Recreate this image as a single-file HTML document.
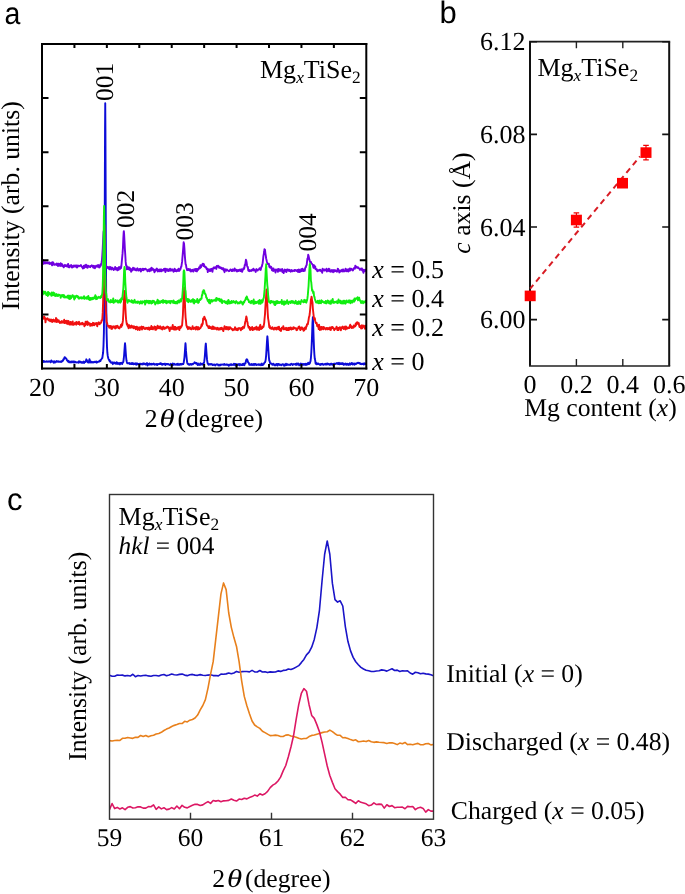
<!DOCTYPE html>
<html><head><meta charset="utf-8"><style>
html,body{margin:0;padding:0;background:#fff;}
body{width:685px;height:894px;overflow:hidden;}
svg{display:block;will-change:transform;filter:blur(0.3px);}
text{fill:#000;text-rendering:geometricPrecision;}
</style></head><body>
<svg width="685" height="894" viewBox="0 0 685 894">
<rect width="685" height="894" fill="#fff"/>
<defs><clipPath id="ca"><rect x="42.0" y="44.0" width="324.3" height="324.5"/></clipPath><clipPath id="cc"><rect x="109.5" y="494.5" width="324" height="324.7"/></clipPath></defs>
<g clip-path="url(#ca)" fill="none" stroke-width="1.9" stroke-linejoin="round">
<path d="M42.00,361.63 L42.39,361.86 L42.78,361.64 L43.17,360.92 L43.56,361.92 L43.95,361.72 L44.33,361.28 L44.72,361.80 L45.11,361.71 L45.50,361.68 L45.89,361.57 L46.28,361.81 L46.67,361.24 L47.06,361.51 L47.45,361.37 L47.84,361.87 L48.23,361.62 L48.62,361.48 L49.00,361.27 L49.39,361.51 L49.78,361.64 L50.17,361.52 L50.56,362.23 L50.95,362.11 L51.34,360.44 L51.73,360.82 L52.12,361.60 L52.51,361.49 L52.90,361.79 L53.29,361.79 L53.67,362.66 L54.06,361.21 L54.45,361.54 L54.84,362.64 L55.23,362.02 L55.62,362.03 L56.01,361.50 L56.40,361.00 L56.79,361.82 L57.18,361.79 L57.57,361.19 L57.96,361.44 L58.34,361.71 L58.73,361.32 L59.12,361.69 L59.51,361.77 L59.90,361.73 L60.29,361.46 L60.68,361.91 L61.07,361.98 L61.46,361.61 L61.85,360.93 L62.24,361.38 L62.63,360.50 L63.01,360.68 L63.40,359.26 L63.79,359.52 L64.18,358.41 L64.57,357.23 L64.96,357.33 L65.35,357.67 L65.74,358.35 L66.13,358.49 L66.52,359.10 L66.91,360.28 L67.30,360.47 L67.68,361.17 L68.07,361.69 L68.46,360.81 L68.85,361.81 L69.24,362.35 L69.63,361.73 L70.02,361.54 L70.41,362.28 L70.80,362.08 L71.19,362.39 L71.58,361.85 L71.97,361.35 L72.35,361.99 L72.74,361.85 L73.13,362.41 L73.52,362.16 L73.91,361.35 L74.30,361.56 L74.69,362.51 L75.08,362.42 L75.47,361.84 L75.86,362.14 L76.25,362.35 L76.64,362.37 L77.02,362.56 L77.41,362.29 L77.80,362.14 L78.19,362.07 L78.58,362.67 L78.97,361.19 L79.36,362.15 L79.75,362.23 L80.14,361.58 L80.53,362.38 L80.92,361.94 L81.31,362.63 L81.69,362.19 L82.08,362.55 L82.47,362.80 L82.86,362.42 L83.25,361.86 L83.64,361.57 L84.03,363.03 L84.42,362.17 L84.81,361.85 L85.20,362.02 L85.59,361.30 L85.98,360.66 L86.36,359.32 L86.75,360.28 L87.14,361.05 L87.53,362.15 L87.92,361.65 L88.31,362.40 L88.70,362.55 L89.09,360.58 L89.48,359.24 L89.87,360.63 L90.26,362.43 L90.65,361.45 L91.03,361.60 L91.42,362.50 L91.81,361.88 L92.20,362.04 L92.59,362.11 L92.98,362.50 L93.37,362.08 L93.76,362.37 L94.15,362.15 L94.54,361.83 L94.93,362.05 L95.31,361.74 L95.70,362.14 L96.09,361.59 L96.48,361.56 L96.87,362.66 L97.26,361.92 L97.65,361.85 L98.04,362.02 L98.43,361.50 L98.82,361.46 L99.21,361.61 L99.60,361.37 L99.98,360.50 L100.37,361.11 L100.76,360.13 L101.15,359.48 L101.54,358.95 L101.93,358.36 L102.32,358.09 L102.71,355.07 L103.10,352.75 L103.49,345.88 L103.88,332.86 L104.27,300.17 L104.65,232.41 L105.04,129.02 L105.24,103.26 L105.43,129.64 L105.82,232.91 L106.21,300.80 L106.60,333.16 L106.99,346.84 L107.38,352.95 L107.77,355.95 L108.16,357.85 L108.55,359.02 L108.94,360.00 L109.32,359.83 L109.71,361.46 L110.10,361.22 L110.49,361.27 L110.88,362.34 L111.27,362.87 L111.66,362.68 L112.05,362.69 L112.44,362.34 L112.83,364.17 L113.22,363.38 L113.61,362.56 L113.99,362.78 L114.38,363.23 L114.77,362.54 L115.16,363.35 L115.55,363.11 L115.94,363.90 L116.33,363.81 L116.72,362.18 L117.11,363.45 L117.50,362.72 L117.89,363.96 L118.28,363.55 L118.66,363.73 L119.05,363.01 L119.44,364.32 L119.83,364.40 L120.22,363.00 L120.61,363.63 L121.00,363.13 L121.39,363.38 L121.78,362.76 L122.17,364.07 L122.56,362.59 L122.95,362.45 L123.33,361.75 L123.72,358.99 L124.11,355.24 L124.50,349.44 L124.89,344.27 L125.02,343.28 L125.28,345.54 L125.67,351.67 L126.06,356.76 L126.45,360.29 L126.84,361.93 L127.23,363.22 L127.62,363.10 L128.00,363.36 L128.39,363.23 L128.78,363.37 L129.17,363.09 L129.56,363.94 L129.95,363.23 L130.34,363.44 L130.73,363.96 L131.12,364.00 L131.51,363.66 L131.90,362.95 L132.29,364.07 L132.67,364.01 L133.06,363.27 L133.45,364.26 L133.84,363.61 L134.23,363.43 L134.62,363.99 L135.01,363.88 L135.40,364.06 L135.79,363.25 L136.18,364.80 L136.57,363.72 L136.96,363.31 L137.34,364.29 L137.73,363.85 L138.12,364.17 L138.51,363.88 L138.90,364.01 L139.29,364.15 L139.68,363.71 L140.07,364.36 L140.46,363.85 L140.85,363.68 L141.24,364.11 L141.62,364.28 L142.01,363.98 L142.40,363.70 L142.79,364.38 L143.18,363.31 L143.57,363.65 L143.96,364.13 L144.35,363.51 L144.74,364.14 L145.13,364.11 L145.52,364.54 L145.91,363.73 L146.29,363.87 L146.68,364.30 L147.07,363.05 L147.46,365.56 L147.85,363.86 L148.24,363.85 L148.63,364.57 L149.02,364.17 L149.41,363.39 L149.80,364.48 L150.19,364.59 L150.58,364.00 L150.96,364.08 L151.35,364.43 L151.74,363.81 L152.13,364.42 L152.52,364.32 L152.91,363.93 L153.30,363.61 L153.69,364.14 L154.08,363.85 L154.47,364.70 L154.86,364.32 L155.25,364.61 L155.63,364.32 L156.02,364.39 L156.41,363.92 L156.80,364.57 L157.19,365.08 L157.58,364.13 L157.97,364.00 L158.36,364.19 L158.75,364.01 L159.14,363.83 L159.53,364.05 L159.92,363.59 L160.30,364.01 L160.69,363.14 L161.08,363.52 L161.47,364.16 L161.86,363.88 L162.25,364.83 L162.64,363.99 L163.03,363.95 L163.42,364.17 L163.81,364.30 L164.20,363.73 L164.59,364.35 L164.97,363.62 L165.36,365.01 L165.75,364.35 L166.14,364.10 L166.53,363.99 L166.92,364.23 L167.31,364.31 L167.70,363.94 L168.09,364.00 L168.48,364.34 L168.87,364.19 L169.26,364.85 L169.64,364.95 L170.03,364.44 L170.42,364.65 L170.81,363.84 L171.20,364.74 L171.59,364.44 L171.98,364.67 L172.37,365.17 L172.76,363.43 L173.15,364.57 L173.54,363.96 L173.93,364.72 L174.31,363.86 L174.70,364.23 L175.09,364.54 L175.48,364.72 L175.87,364.48 L176.26,364.08 L176.65,364.19 L177.04,364.83 L177.43,364.42 L177.82,363.66 L178.21,364.79 L178.60,364.59 L178.98,364.79 L179.37,364.23 L179.76,364.74 L180.15,363.87 L180.54,364.58 L180.93,364.08 L181.32,364.56 L181.71,364.66 L182.10,363.81 L182.49,364.01 L182.88,363.88 L183.27,364.04 L183.65,362.99 L184.04,360.29 L184.43,357.62 L184.82,352.47 L185.21,346.93 L185.47,343.25 L185.60,344.30 L185.99,350.65 L186.38,355.24 L186.77,359.36 L187.16,362.43 L187.55,363.76 L187.94,363.47 L188.32,364.23 L188.71,364.15 L189.10,364.86 L189.49,364.23 L189.88,364.71 L190.27,363.88 L190.66,364.21 L191.05,364.25 L191.44,364.79 L191.83,364.49 L192.22,363.83 L192.60,364.37 L192.99,364.28 L193.38,363.71 L193.77,363.44 L194.16,363.25 L194.55,362.35 L194.94,363.07 L195.33,363.12 L195.72,362.80 L196.11,363.76 L196.50,363.03 L196.89,363.60 L197.27,363.79 L197.66,365.03 L198.05,363.51 L198.44,364.55 L198.83,364.76 L199.22,364.53 L199.61,364.90 L200.00,363.92 L200.39,363.34 L200.78,364.69 L201.17,363.79 L201.56,364.15 L201.94,363.72 L202.33,364.66 L202.72,364.48 L203.11,363.61 L203.50,364.02 L203.89,362.93 L204.28,361.16 L204.67,358.04 L205.06,352.83 L205.45,346.82 L205.77,343.71 L205.84,343.56 L206.23,349.12 L206.61,354.56 L207.00,359.43 L207.39,362.12 L207.78,363.89 L208.17,363.55 L208.56,364.82 L208.95,364.25 L209.34,364.17 L209.73,364.02 L210.12,364.63 L210.51,364.42 L210.90,363.94 L211.28,363.95 L211.67,364.23 L212.06,364.19 L212.45,365.00 L212.84,365.14 L213.23,364.92 L213.62,364.70 L214.01,364.35 L214.40,364.58 L214.79,364.96 L215.18,365.52 L215.57,364.98 L215.95,364.45 L216.34,364.60 L216.73,364.37 L217.12,364.23 L217.51,364.51 L217.90,364.68 L218.29,365.42 L218.68,364.62 L219.07,365.21 L219.46,365.40 L219.85,364.64 L220.24,365.33 L220.62,364.93 L221.01,364.43 L221.40,364.74 L221.79,364.63 L222.18,364.52 L222.57,364.53 L222.96,364.69 L223.35,364.82 L223.74,364.23 L224.13,364.62 L224.52,363.95 L224.91,364.75 L225.29,364.91 L225.68,364.71 L226.07,364.77 L226.46,364.90 L226.85,364.34 L227.24,364.53 L227.63,364.87 L228.02,365.09 L228.41,364.82 L228.80,365.79 L229.19,364.61 L229.58,365.10 L229.96,365.22 L230.35,364.59 L230.74,364.28 L231.13,364.12 L231.52,364.73 L231.91,365.15 L232.30,364.78 L232.69,364.73 L233.08,364.48 L233.47,364.91 L233.86,363.70 L234.25,364.76 L234.63,364.67 L235.02,364.04 L235.41,365.64 L235.80,364.03 L236.19,364.17 L236.58,364.12 L236.97,365.15 L237.36,364.25 L237.75,364.95 L238.14,364.91 L238.53,364.76 L238.91,364.05 L239.30,364.36 L239.69,365.38 L240.08,364.04 L240.47,364.24 L240.86,364.53 L241.25,364.96 L241.64,364.70 L242.03,364.91 L242.42,364.07 L242.81,364.96 L243.20,364.75 L243.58,363.72 L243.97,365.02 L244.36,365.17 L244.75,363.49 L245.14,363.38 L245.53,363.31 L245.92,361.14 L246.31,359.89 L246.70,359.30 L247.09,359.46 L247.48,360.18 L247.87,361.74 L248.25,362.52 L248.64,362.58 L249.03,363.94 L249.42,364.88 L249.81,364.79 L250.20,364.83 L250.59,364.46 L250.98,364.93 L251.37,364.08 L251.76,364.87 L252.15,364.51 L252.54,365.06 L252.92,364.77 L253.31,364.07 L253.70,364.63 L254.09,365.12 L254.48,364.06 L254.87,364.32 L255.26,364.22 L255.65,363.90 L256.04,365.00 L256.43,365.15 L256.82,364.92 L257.21,364.66 L257.59,364.53 L257.98,364.65 L258.37,364.21 L258.76,364.93 L259.15,364.99 L259.54,364.92 L259.93,364.25 L260.32,364.51 L260.71,364.38 L261.10,365.23 L261.49,364.48 L261.88,363.52 L262.26,364.50 L262.65,365.12 L263.04,364.51 L263.43,364.51 L263.82,364.01 L264.21,362.92 L264.60,362.65 L264.99,362.23 L265.38,361.38 L265.77,359.05 L266.16,355.09 L266.55,348.73 L266.93,342.18 L267.32,336.64 L267.39,336.32 L267.71,339.91 L268.10,346.16 L268.49,351.78 L268.88,357.25 L269.27,360.79 L269.66,361.04 L270.05,363.12 L270.44,363.56 L270.83,363.29 L271.22,363.40 L271.60,363.96 L271.99,363.99 L272.38,364.86 L272.77,364.51 L273.16,363.67 L273.55,364.02 L273.94,364.75 L274.33,365.30 L274.72,364.64 L275.11,364.62 L275.50,365.33 L275.89,364.50 L276.27,364.38 L276.66,363.89 L277.05,364.30 L277.44,365.52 L277.83,363.90 L278.22,364.55 L278.61,363.92 L279.00,364.61 L279.39,364.96 L279.78,364.45 L280.17,364.89 L280.56,364.89 L280.94,364.77 L281.33,365.34 L281.72,364.92 L282.11,364.43 L282.50,364.27 L282.89,364.19 L283.28,364.79 L283.67,364.43 L284.06,365.80 L284.45,365.40 L284.84,364.48 L285.23,364.43 L285.61,365.34 L286.00,363.73 L286.39,364.37 L286.78,365.00 L287.17,364.16 L287.56,364.36 L287.95,364.42 L288.34,364.87 L288.73,364.63 L289.12,364.75 L289.51,364.84 L289.89,364.58 L290.28,365.07 L290.67,364.24 L291.06,363.92 L291.45,363.77 L291.84,363.83 L292.23,364.32 L292.62,365.03 L293.01,364.64 L293.40,364.29 L293.79,364.08 L294.18,364.32 L294.56,364.37 L294.95,364.30 L295.34,363.90 L295.73,364.33 L296.12,365.00 L296.51,363.56 L296.90,364.43 L297.29,363.58 L297.68,364.61 L298.07,364.19 L298.46,363.59 L298.85,364.57 L299.23,365.33 L299.62,364.56 L300.01,365.03 L300.40,364.47 L300.79,363.52 L301.18,364.71 L301.57,364.29 L301.96,363.81 L302.35,364.81 L302.74,364.57 L303.13,364.19 L303.52,364.80 L303.90,364.00 L304.29,364.66 L304.68,363.93 L305.07,364.57 L305.46,363.80 L305.85,364.93 L306.24,364.34 L306.63,364.83 L307.02,363.76 L307.41,363.85 L307.80,364.36 L308.19,362.65 L308.57,363.29 L308.96,364.07 L309.35,363.58 L309.74,363.44 L310.13,362.16 L310.52,361.14 L310.91,357.79 L311.30,352.54 L311.69,344.63 L312.08,334.57 L312.47,322.99 L312.79,318.20 L312.86,317.10 L313.24,325.99 L313.63,338.36 L314.02,348.41 L314.41,354.81 L314.80,358.81 L315.19,360.39 L315.58,363.44 L315.97,362.59 L316.36,364.15 L316.75,364.29 L317.14,363.85 L317.53,363.58 L317.91,363.98 L318.30,363.47 L318.69,364.16 L319.08,364.08 L319.47,364.36 L319.86,364.57 L320.25,364.95 L320.64,364.01 L321.03,364.68 L321.42,363.86 L321.81,363.83 L322.20,363.96 L322.58,363.81 L322.97,364.70 L323.36,364.68 L323.75,364.84 L324.14,364.26 L324.53,364.40 L324.92,364.02 L325.31,363.76 L325.70,364.48 L326.09,364.40 L326.48,363.78 L326.87,364.55 L327.25,363.50 L327.64,364.20 L328.03,364.00 L328.42,364.04 L328.81,363.79 L329.20,364.70 L329.59,364.53 L329.98,364.80 L330.37,364.33 L330.76,363.68 L331.15,364.09 L331.54,363.72 L331.92,364.45 L332.31,364.78 L332.70,364.38 L333.09,363.95 L333.48,364.04 L333.87,364.28 L334.26,363.50 L334.65,364.18 L335.04,364.14 L335.43,363.72 L335.82,363.67 L336.20,363.81 L336.59,363.21 L336.98,363.05 L337.37,363.64 L337.76,363.33 L338.15,364.04 L338.54,362.97 L338.93,362.76 L339.32,364.13 L339.71,364.26 L340.10,363.59 L340.49,363.34 L340.87,364.04 L341.26,363.31 L341.65,363.97 L342.04,363.15 L342.43,364.04 L342.82,363.19 L343.21,364.04 L343.60,364.83 L343.99,364.03 L344.38,364.49 L344.77,363.86 L345.16,363.74 L345.54,363.47 L345.93,364.61 L346.32,364.11 L346.71,364.86 L347.10,363.60 L347.49,364.02 L347.88,364.16 L348.27,364.75 L348.66,364.93 L349.05,363.82 L349.44,363.59 L349.83,363.32 L350.21,364.70 L350.60,364.05 L350.99,363.79 L351.38,364.06 L351.77,362.92 L352.16,363.29 L352.55,364.48 L352.94,364.23 L353.33,364.11 L353.72,363.58 L354.11,364.28 L354.50,364.79 L354.88,363.41 L355.27,363.92 L355.66,363.65 L356.05,363.92 L356.44,363.65 L356.83,363.43 L357.22,362.93 L357.61,363.13 L358.00,362.68 L358.39,362.78 L358.78,362.84 L359.17,363.30 L359.55,362.92 L359.94,363.21 L360.33,364.00 L360.72,363.54 L361.11,363.63 L361.50,364.21 L361.89,363.99 L362.28,363.95 L362.67,364.03 L363.06,363.39 L363.45,364.16 L363.84,364.55 L364.22,364.22 L364.61,363.26 L365.00,364.09 L365.39,363.55 L365.78,363.85 L366.17,364.01" stroke="#0c0cd8"/>
<path d="M42.00,262.25 L42.39,261.71 L42.78,261.86 L43.17,260.19 L43.56,263.86 L43.95,263.36 L44.33,262.17 L44.72,263.16 L45.11,262.80 L45.50,262.15 L45.89,263.51 L46.28,262.47 L46.67,262.51 L47.06,262.18 L47.45,263.30 L47.84,262.88 L48.23,263.49 L48.62,262.57 L49.00,263.25 L49.39,262.44 L49.78,263.98 L50.17,263.48 L50.56,263.66 L50.95,263.79 L51.34,262.64 L51.73,264.22 L52.12,265.36 L52.51,262.28 L52.90,262.26 L53.29,262.51 L53.67,264.56 L54.06,264.01 L54.45,264.88 L54.84,264.63 L55.23,264.26 L55.62,264.38 L56.01,264.05 L56.40,264.99 L56.79,263.35 L57.18,264.01 L57.57,264.64 L57.96,266.02 L58.34,263.90 L58.73,263.69 L59.12,264.18 L59.51,265.55 L59.90,264.58 L60.29,265.96 L60.68,263.30 L61.07,265.91 L61.46,265.89 L61.85,263.87 L62.24,265.26 L62.63,266.22 L63.01,265.32 L63.40,266.15 L63.79,267.38 L64.18,265.65 L64.57,265.24 L64.96,264.88 L65.35,266.15 L65.74,265.49 L66.13,265.56 L66.52,265.68 L66.91,266.38 L67.30,264.98 L67.68,264.65 L68.07,263.94 L68.46,267.08 L68.85,266.15 L69.24,267.38 L69.63,266.10 L70.02,265.48 L70.41,266.53 L70.80,266.06 L71.19,265.07 L71.58,265.39 L71.97,267.65 L72.35,266.46 L72.74,266.52 L73.13,265.94 L73.52,265.60 L73.91,266.95 L74.30,266.11 L74.69,265.56 L75.08,266.10 L75.47,265.45 L75.86,266.39 L76.25,267.20 L76.64,265.54 L77.02,267.47 L77.41,265.70 L77.80,266.40 L78.19,265.57 L78.58,266.10 L78.97,266.33 L79.36,265.93 L79.75,265.71 L80.14,265.74 L80.53,265.63 L80.92,265.00 L81.31,266.12 L81.69,266.69 L82.08,267.13 L82.47,266.91 L82.86,268.46 L83.25,266.65 L83.64,266.00 L84.03,267.98 L84.42,265.51 L84.81,267.23 L85.20,265.60 L85.59,266.72 L85.98,264.75 L86.36,267.20 L86.75,266.30 L87.14,265.62 L87.53,267.88 L87.92,267.11 L88.31,266.50 L88.70,265.83 L89.09,266.44 L89.48,266.34 L89.87,267.10 L90.26,267.17 L90.65,265.92 L91.03,266.03 L91.42,266.05 L91.81,265.36 L92.20,266.00 L92.59,266.43 L92.98,267.10 L93.37,267.63 L93.76,265.82 L94.15,266.98 L94.54,266.13 L94.93,268.26 L95.31,266.45 L95.70,266.91 L96.09,265.68 L96.48,265.77 L96.87,266.62 L97.26,266.10 L97.65,266.70 L98.04,265.04 L98.43,266.88 L98.82,265.50 L99.21,267.65 L99.60,265.84 L99.98,266.88 L100.37,264.54 L100.76,265.71 L101.15,263.85 L101.54,262.73 L101.93,260.31 L102.32,255.17 L102.71,248.54 L103.10,240.00 L103.49,232.55 L103.62,231.30 L103.88,232.75 L104.27,242.07 L104.65,251.26 L105.04,256.17 L105.43,262.92 L105.82,264.58 L106.21,265.89 L106.60,267.61 L106.99,267.78 L107.38,267.69 L107.77,266.87 L108.16,268.17 L108.55,268.37 L108.94,267.47 L109.32,269.25 L109.71,268.87 L110.10,266.81 L110.49,268.62 L110.88,267.48 L111.27,269.55 L111.66,269.30 L112.05,267.69 L112.44,267.90 L112.83,268.76 L113.22,268.49 L113.61,270.00 L113.99,269.34 L114.38,268.48 L114.77,269.22 L115.16,267.01 L115.55,269.00 L115.94,269.47 L116.33,268.58 L116.72,268.11 L117.11,269.18 L117.50,270.34 L117.89,268.82 L118.28,267.65 L118.66,269.78 L119.05,266.88 L119.44,268.80 L119.83,267.73 L120.22,268.78 L120.61,266.87 L121.00,267.98 L121.39,265.75 L121.78,261.64 L122.17,257.59 L122.56,253.42 L122.95,247.48 L123.33,238.14 L123.72,231.91 L123.85,231.14 L124.11,233.95 L124.50,241.19 L124.89,249.31 L125.28,255.03 L125.67,261.89 L126.06,265.39 L126.45,265.16 L126.84,269.37 L127.23,268.66 L127.62,267.99 L128.00,267.02 L128.39,269.36 L128.78,269.40 L129.17,268.52 L129.56,267.59 L129.95,270.14 L130.34,268.75 L130.73,268.90 L131.12,271.77 L131.51,271.21 L131.90,270.25 L132.29,269.09 L132.67,270.06 L133.06,267.60 L133.45,269.66 L133.84,268.95 L134.23,268.53 L134.62,268.31 L135.01,270.12 L135.40,269.78 L135.79,269.86 L136.18,270.46 L136.57,269.05 L136.96,268.74 L137.34,268.30 L137.73,269.55 L138.12,270.50 L138.51,269.75 L138.90,270.44 L139.29,268.91 L139.68,269.52 L140.07,269.27 L140.46,268.87 L140.85,271.51 L141.24,270.66 L141.62,269.30 L142.01,269.30 L142.40,269.91 L142.79,268.73 L143.18,270.33 L143.57,268.87 L143.96,269.66 L144.35,269.11 L144.74,269.57 L145.13,268.85 L145.52,268.65 L145.91,269.17 L146.29,269.42 L146.68,269.75 L147.07,270.06 L147.46,271.31 L147.85,270.70 L148.24,269.80 L148.63,270.64 L149.02,269.44 L149.41,271.26 L149.80,270.50 L150.19,268.88 L150.58,270.68 L150.96,270.73 L151.35,267.76 L151.74,269.41 L152.13,269.65 L152.52,268.41 L152.91,269.15 L153.30,269.25 L153.69,270.49 L154.08,270.32 L154.47,272.30 L154.86,269.74 L155.25,271.05 L155.63,270.14 L156.02,270.31 L156.41,269.10 L156.80,268.46 L157.19,269.44 L157.58,270.74 L157.97,271.44 L158.36,270.61 L158.75,270.52 L159.14,269.39 L159.53,271.41 L159.92,271.25 L160.30,269.66 L160.69,270.07 L161.08,269.27 L161.47,271.36 L161.86,270.46 L162.25,270.04 L162.64,270.47 L163.03,270.50 L163.42,269.77 L163.81,269.07 L164.20,269.04 L164.59,268.65 L164.97,270.52 L165.36,272.02 L165.75,268.69 L166.14,270.25 L166.53,270.48 L166.92,269.30 L167.31,270.31 L167.70,269.21 L168.09,271.16 L168.48,269.63 L168.87,270.22 L169.26,270.72 L169.64,269.77 L170.03,268.61 L170.42,269.68 L170.81,270.78 L171.20,270.06 L171.59,270.32 L171.98,269.21 L172.37,270.24 L172.76,270.74 L173.15,270.14 L173.54,271.73 L173.93,269.92 L174.31,269.20 L174.70,268.71 L175.09,271.05 L175.48,270.00 L175.87,270.90 L176.26,270.41 L176.65,271.38 L177.04,271.05 L177.43,269.62 L177.82,270.13 L178.21,270.77 L178.60,268.74 L178.98,270.94 L179.37,270.64 L179.76,270.29 L180.15,269.04 L180.54,269.04 L180.93,267.08 L181.32,266.78 L181.71,264.15 L182.10,261.63 L182.49,256.94 L182.88,252.41 L183.27,247.68 L183.65,242.25 L183.72,244.07 L184.04,243.45 L184.43,248.47 L184.82,255.63 L185.21,260.30 L185.60,264.13 L185.99,264.76 L186.38,267.64 L186.77,268.71 L187.16,270.18 L187.55,269.32 L187.94,270.04 L188.32,268.88 L188.71,269.64 L189.10,269.49 L189.49,270.52 L189.88,269.12 L190.27,269.29 L190.66,270.51 L191.05,271.57 L191.44,270.39 L191.83,270.34 L192.22,269.80 L192.60,271.03 L192.99,270.57 L193.38,271.59 L193.77,270.40 L194.16,269.31 L194.55,269.63 L194.94,269.26 L195.33,269.02 L195.72,271.14 L196.11,270.72 L196.50,268.93 L196.89,271.43 L197.27,270.03 L197.66,268.89 L198.05,269.88 L198.44,269.29 L198.83,268.44 L199.22,267.13 L199.61,268.44 L200.00,268.23 L200.39,265.29 L200.78,267.41 L201.17,266.86 L201.56,265.32 L201.94,265.21 L202.33,264.40 L202.72,263.67 L203.11,264.13 L203.50,265.93 L203.89,264.08 L204.28,266.13 L204.67,266.70 L205.06,266.52 L205.45,267.28 L205.84,266.93 L206.23,267.81 L206.61,268.89 L207.00,269.43 L207.39,268.62 L207.78,272.15 L208.17,269.20 L208.56,269.88 L208.95,269.63 L209.34,269.52 L209.73,270.97 L210.12,269.44 L210.51,270.95 L210.90,270.74 L211.28,268.82 L211.67,270.51 L212.06,268.99 L212.45,271.76 L212.84,268.99 L213.23,268.38 L213.62,267.41 L214.01,267.77 L214.40,268.21 L214.79,267.67 L215.18,267.27 L215.57,267.52 L215.95,267.72 L216.34,268.92 L216.73,266.03 L217.12,266.82 L217.51,266.32 L217.90,265.73 L218.29,265.89 L218.68,266.21 L219.07,267.67 L219.46,267.03 L219.85,266.92 L220.24,268.10 L220.62,268.03 L221.01,267.83 L221.40,268.56 L221.79,267.74 L222.18,269.18 L222.57,269.24 L222.96,268.67 L223.35,268.15 L223.74,270.63 L224.13,269.56 L224.52,272.20 L224.91,269.16 L225.29,270.54 L225.68,269.54 L226.07,270.20 L226.46,270.76 L226.85,269.44 L227.24,270.08 L227.63,270.35 L228.02,270.35 L228.41,270.79 L228.80,271.18 L229.19,271.04 L229.58,270.57 L229.96,270.07 L230.35,269.42 L230.74,269.77 L231.13,269.95 L231.52,270.99 L231.91,270.11 L232.30,269.37 L232.69,270.96 L233.08,269.75 L233.47,269.79 L233.86,270.25 L234.25,270.85 L234.63,268.39 L235.02,269.49 L235.41,270.60 L235.80,270.14 L236.19,269.71 L236.58,269.99 L236.97,271.62 L237.36,270.06 L237.75,271.05 L238.14,271.11 L238.53,270.05 L238.91,270.80 L239.30,270.04 L239.69,269.89 L240.08,269.44 L240.47,271.13 L240.86,270.03 L241.25,269.87 L241.64,269.35 L242.03,271.80 L242.42,270.82 L242.81,269.96 L243.20,269.26 L243.58,268.15 L243.97,269.01 L244.36,267.92 L244.75,264.93 L245.14,265.12 L245.53,262.60 L245.92,259.74 L246.31,260.83 L246.70,263.03 L247.09,265.64 L247.48,267.08 L247.87,267.05 L248.25,270.50 L248.64,270.00 L249.03,271.07 L249.42,271.21 L249.81,270.05 L250.20,270.56 L250.59,270.93 L250.98,270.98 L251.37,270.21 L251.76,269.83 L252.15,270.39 L252.54,269.69 L252.92,269.90 L253.31,268.64 L253.70,270.44 L254.09,269.49 L254.48,269.88 L254.87,270.30 L255.26,270.60 L255.65,271.92 L256.04,270.47 L256.43,269.08 L256.82,270.36 L257.21,269.71 L257.59,270.52 L257.98,269.56 L258.37,269.48 L258.76,269.58 L259.15,269.39 L259.54,268.24 L259.93,269.03 L260.32,269.29 L260.71,269.88 L261.10,267.95 L261.49,266.92 L261.88,266.38 L262.26,264.55 L262.65,263.17 L263.04,259.56 L263.43,255.92 L263.82,253.85 L264.21,251.50 L264.47,249.12 L264.60,249.71 L264.99,249.64 L265.38,253.34 L265.77,255.59 L266.16,258.50 L266.55,260.14 L266.93,261.79 L267.32,262.79 L267.71,263.90 L268.10,264.13 L268.49,263.90 L268.88,263.82 L269.27,266.58 L269.66,267.37 L270.05,266.40 L270.44,267.83 L270.83,266.58 L271.22,267.00 L271.60,268.50 L271.99,270.33 L272.38,268.47 L272.77,268.89 L273.16,271.16 L273.55,268.34 L273.94,270.62 L274.33,270.58 L274.72,270.06 L275.11,270.45 L275.50,272.56 L275.89,269.41 L276.27,270.13 L276.66,270.22 L277.05,269.85 L277.44,269.31 L277.83,271.82 L278.22,270.67 L278.61,269.00 L279.00,269.91 L279.39,270.86 L279.78,270.86 L280.17,269.30 L280.56,270.46 L280.94,270.76 L281.33,270.88 L281.72,270.89 L282.11,269.01 L282.50,272.13 L282.89,270.74 L283.28,272.10 L283.67,273.01 L284.06,270.44 L284.45,269.53 L284.84,271.31 L285.23,270.43 L285.61,270.20 L286.00,269.71 L286.39,272.02 L286.78,270.21 L287.17,269.40 L287.56,270.21 L287.95,269.61 L288.34,270.73 L288.73,270.23 L289.12,269.69 L289.51,271.10 L289.89,270.04 L290.28,271.21 L290.67,271.66 L291.06,270.28 L291.45,270.04 L291.84,270.76 L292.23,271.34 L292.62,270.58 L293.01,270.70 L293.40,270.56 L293.79,270.84 L294.18,271.11 L294.56,269.97 L294.95,270.15 L295.34,270.60 L295.73,269.99 L296.12,270.67 L296.51,271.00 L296.90,270.52 L297.29,270.02 L297.68,269.86 L298.07,272.00 L298.46,271.25 L298.85,269.54 L299.23,269.77 L299.62,272.06 L300.01,271.73 L300.40,270.54 L300.79,271.39 L301.18,269.12 L301.57,270.36 L301.96,270.95 L302.35,268.70 L302.74,269.57 L303.13,270.84 L303.52,271.05 L303.90,269.46 L304.29,270.02 L304.68,270.85 L305.07,268.71 L305.46,267.20 L305.85,267.26 L306.24,265.58 L306.63,265.18 L307.02,261.96 L307.41,258.56 L307.80,258.74 L308.19,254.72 L308.57,255.83 L308.96,257.63 L309.35,259.64 L309.74,260.77 L310.13,262.36 L310.52,262.62 L310.91,261.94 L311.30,263.21 L311.69,263.46 L312.08,263.83 L312.47,264.63 L312.86,264.64 L313.24,266.99 L313.63,267.87 L314.02,265.30 L314.41,267.74 L314.80,267.64 L315.19,266.46 L315.58,269.40 L315.97,268.84 L316.36,269.30 L316.75,269.27 L317.14,270.91 L317.53,271.16 L317.91,270.44 L318.30,270.86 L318.69,270.24 L319.08,270.49 L319.47,269.78 L319.86,270.46 L320.25,269.85 L320.64,270.79 L321.03,271.19 L321.42,270.77 L321.81,271.52 L322.20,272.81 L322.58,268.75 L322.97,270.56 L323.36,270.07 L323.75,270.17 L324.14,269.41 L324.53,270.62 L324.92,270.36 L325.31,270.05 L325.70,270.37 L326.09,270.09 L326.48,268.61 L326.87,271.52 L327.25,270.35 L327.64,269.80 L328.03,270.87 L328.42,270.05 L328.81,268.77 L329.20,271.37 L329.59,269.19 L329.98,270.44 L330.37,270.73 L330.76,271.77 L331.15,271.64 L331.54,270.77 L331.92,269.98 L332.31,270.28 L332.70,271.56 L333.09,272.15 L333.48,271.10 L333.87,270.09 L334.26,271.51 L334.65,270.31 L335.04,270.28 L335.43,270.39 L335.82,271.13 L336.20,270.86 L336.59,271.46 L336.98,271.72 L337.37,271.05 L337.76,268.63 L338.15,269.17 L338.54,270.74 L338.93,270.55 L339.32,272.44 L339.71,270.57 L340.10,270.46 L340.49,271.39 L340.87,271.49 L341.26,270.38 L341.65,270.98 L342.04,269.61 L342.43,269.77 L342.82,271.62 L343.21,269.37 L343.60,271.34 L343.99,271.13 L344.38,271.20 L344.77,271.32 L345.16,271.01 L345.54,268.71 L345.93,269.66 L346.32,270.00 L346.71,271.28 L347.10,269.53 L347.49,269.88 L347.88,270.15 L348.27,271.56 L348.66,269.19 L349.05,269.23 L349.44,270.88 L349.83,268.49 L350.21,270.52 L350.60,269.78 L350.99,268.73 L351.38,269.60 L351.77,268.97 L352.16,269.80 L352.55,269.78 L352.94,270.52 L353.33,268.99 L353.72,268.81 L354.11,267.93 L354.50,268.08 L354.88,268.65 L355.27,265.79 L355.66,267.67 L356.05,266.42 L356.44,266.82 L356.83,267.05 L357.22,267.66 L357.61,267.40 L358.00,267.18 L358.39,268.12 L358.78,268.20 L359.17,268.32 L359.55,268.96 L359.94,269.79 L360.33,269.40 L360.72,269.62 L361.11,268.57 L361.50,269.71 L361.89,268.36 L362.28,270.65 L362.67,269.32 L363.06,271.29 L363.45,272.78 L363.84,269.94 L364.22,271.44 L364.61,270.68 L365.00,269.88 L365.39,269.65 L365.78,270.85 L366.17,271.57" stroke="#7000e0"/>
<path d="M42.00,320.43 L42.39,315.90 L42.78,318.95 L43.17,318.03 L43.56,318.21 L43.95,318.52 L44.33,316.78 L44.72,318.64 L45.11,318.08 L45.50,322.33 L45.89,319.30 L46.28,318.79 L46.67,318.93 L47.06,318.62 L47.45,318.30 L47.84,319.03 L48.23,319.97 L48.62,319.32 L49.00,320.58 L49.39,319.50 L49.78,319.79 L50.17,321.38 L50.56,320.45 L50.95,319.46 L51.34,319.86 L51.73,320.65 L52.12,322.11 L52.51,319.98 L52.90,320.07 L53.29,321.38 L53.67,319.56 L54.06,320.23 L54.45,321.47 L54.84,321.24 L55.23,320.82 L55.62,321.46 L56.01,318.03 L56.40,321.95 L56.79,320.04 L57.18,319.40 L57.57,321.41 L57.96,321.91 L58.34,320.83 L58.73,320.27 L59.12,321.44 L59.51,321.43 L59.90,322.95 L60.29,322.36 L60.68,321.88 L61.07,322.87 L61.46,321.62 L61.85,320.96 L62.24,322.54 L62.63,322.61 L63.01,321.88 L63.40,321.38 L63.79,322.46 L64.18,319.81 L64.57,323.06 L64.96,322.93 L65.35,320.87 L65.74,322.64 L66.13,321.68 L66.52,323.47 L66.91,320.75 L67.30,321.93 L67.68,323.63 L68.07,324.14 L68.46,320.90 L68.85,322.59 L69.24,323.43 L69.63,322.51 L70.02,324.72 L70.41,321.96 L70.80,323.52 L71.19,322.13 L71.58,324.60 L71.97,323.19 L72.35,322.85 L72.74,321.52 L73.13,324.93 L73.52,324.02 L73.91,324.04 L74.30,324.44 L74.69,323.66 L75.08,322.69 L75.47,322.54 L75.86,322.56 L76.25,324.74 L76.64,321.93 L77.02,322.81 L77.41,323.10 L77.80,323.66 L78.19,324.02 L78.58,322.21 L78.97,321.74 L79.36,323.48 L79.75,324.72 L80.14,324.28 L80.53,323.75 L80.92,323.23 L81.31,323.85 L81.69,323.33 L82.08,324.41 L82.47,322.81 L82.86,323.75 L83.25,323.52 L83.64,324.19 L84.03,323.88 L84.42,326.22 L84.81,325.18 L85.20,325.19 L85.59,321.67 L85.98,323.38 L86.36,323.13 L86.75,324.28 L87.14,321.48 L87.53,324.95 L87.92,324.85 L88.31,322.49 L88.70,322.83 L89.09,323.02 L89.48,323.87 L89.87,324.48 L90.26,325.90 L90.65,323.66 L91.03,324.64 L91.42,324.03 L91.81,325.64 L92.20,324.63 L92.59,325.27 L92.98,322.82 L93.37,323.71 L93.76,323.09 L94.15,325.41 L94.54,324.57 L94.93,323.60 L95.31,323.45 L95.70,324.38 L96.09,323.18 L96.48,322.94 L96.87,324.33 L97.26,326.28 L97.65,323.54 L98.04,323.19 L98.43,322.52 L98.82,322.29 L99.21,324.06 L99.60,324.27 L99.98,323.29 L100.37,323.42 L100.76,322.94 L101.15,322.62 L101.54,320.50 L101.93,320.64 L102.32,319.02 L102.71,312.90 L103.10,302.09 L103.49,282.13 L103.88,254.42 L104.27,228.87 L104.40,225.04 L104.65,234.97 L105.04,266.13 L105.43,291.82 L105.82,309.72 L106.21,314.99 L106.60,322.12 L106.99,322.65 L107.38,324.24 L107.77,325.57 L108.16,326.28 L108.55,326.61 L108.94,326.04 L109.32,327.76 L109.71,326.03 L110.10,326.28 L110.49,327.30 L110.88,326.02 L111.27,328.79 L111.66,327.70 L112.05,328.90 L112.44,326.74 L112.83,326.42 L113.22,326.99 L113.61,327.59 L113.99,326.29 L114.38,327.27 L114.77,326.89 L115.16,328.54 L115.55,326.27 L115.94,327.99 L116.33,326.30 L116.72,325.99 L117.11,326.24 L117.50,325.75 L117.89,327.08 L118.28,327.95 L118.66,327.06 L119.05,327.48 L119.44,328.45 L119.83,327.03 L120.22,326.88 L120.61,326.30 L121.00,324.82 L121.39,326.93 L121.78,323.94 L122.17,325.39 L122.56,322.78 L122.95,320.39 L123.33,313.51 L123.72,304.83 L124.11,296.84 L124.50,290.83 L124.89,296.32 L125.28,305.74 L125.67,313.51 L126.06,319.16 L126.45,322.08 L126.84,324.68 L127.23,323.72 L127.62,326.19 L128.00,325.43 L128.39,327.92 L128.78,328.20 L129.17,325.08 L129.56,327.26 L129.95,327.05 L130.34,326.19 L130.73,327.81 L131.12,326.86 L131.51,325.59 L131.90,327.12 L132.29,327.27 L132.67,327.55 L133.06,326.24 L133.45,328.11 L133.84,328.25 L134.23,326.39 L134.62,326.89 L135.01,327.49 L135.40,327.02 L135.79,329.34 L136.18,327.82 L136.57,326.62 L136.96,326.86 L137.34,327.60 L137.73,329.97 L138.12,327.51 L138.51,327.82 L138.90,328.22 L139.29,327.68 L139.68,330.01 L140.07,327.20 L140.46,328.48 L140.85,327.91 L141.24,328.37 L141.62,326.58 L142.01,329.53 L142.40,327.65 L142.79,327.81 L143.18,326.85 L143.57,327.06 L143.96,328.36 L144.35,328.79 L144.74,328.56 L145.13,329.02 L145.52,328.53 L145.91,327.85 L146.29,328.66 L146.68,328.42 L147.07,327.73 L147.46,328.57 L147.85,329.13 L148.24,328.08 L148.63,327.50 L149.02,328.58 L149.41,329.76 L149.80,327.66 L150.19,327.78 L150.58,327.74 L150.96,329.10 L151.35,326.05 L151.74,328.26 L152.13,329.09 L152.52,327.09 L152.91,329.39 L153.30,328.44 L153.69,327.36 L154.08,328.12 L154.47,326.39 L154.86,327.36 L155.25,329.76 L155.63,327.04 L156.02,329.78 L156.41,327.86 L156.80,328.94 L157.19,327.99 L157.58,325.71 L157.97,327.38 L158.36,328.15 L158.75,326.81 L159.14,326.62 L159.53,328.34 L159.92,327.33 L160.30,326.28 L160.69,327.30 L161.08,328.85 L161.47,327.52 L161.86,328.93 L162.25,329.52 L162.64,328.03 L163.03,326.87 L163.42,326.70 L163.81,327.98 L164.20,328.89 L164.59,328.28 L164.97,328.57 L165.36,327.58 L165.75,328.32 L166.14,327.55 L166.53,327.70 L166.92,326.74 L167.31,326.46 L167.70,327.55 L168.09,326.93 L168.48,327.08 L168.87,328.71 L169.26,327.93 L169.64,330.96 L170.03,328.97 L170.42,327.41 L170.81,328.82 L171.20,328.40 L171.59,327.36 L171.98,329.15 L172.37,327.27 L172.76,324.98 L173.15,328.83 L173.54,327.42 L173.93,329.52 L174.31,327.37 L174.70,326.84 L175.09,329.56 L175.48,326.92 L175.87,328.19 L176.26,329.42 L176.65,328.07 L177.04,327.86 L177.43,328.02 L177.82,328.72 L178.21,327.04 L178.60,328.42 L178.98,328.33 L179.37,330.02 L179.76,327.26 L180.15,326.56 L180.54,328.05 L180.93,326.67 L181.32,326.93 L181.71,325.92 L182.10,325.23 L182.49,320.13 L182.88,315.22 L183.27,304.74 L183.65,296.36 L184.04,290.50 L184.17,287.55 L184.43,290.29 L184.82,299.50 L185.21,310.83 L185.60,317.61 L185.99,320.94 L186.38,325.47 L186.77,326.44 L187.16,327.61 L187.55,326.57 L187.94,329.17 L188.32,327.99 L188.71,327.57 L189.10,327.26 L189.49,327.60 L189.88,328.76 L190.27,327.67 L190.66,329.06 L191.05,328.59 L191.44,329.38 L191.83,328.87 L192.22,328.01 L192.60,326.18 L192.99,328.40 L193.38,328.90 L193.77,328.28 L194.16,328.68 L194.55,327.65 L194.94,327.74 L195.33,327.18 L195.72,329.48 L196.11,328.27 L196.50,327.60 L196.89,326.75 L197.27,327.91 L197.66,329.47 L198.05,328.45 L198.44,327.21 L198.83,329.28 L199.22,329.16 L199.61,328.54 L200.00,328.11 L200.39,328.14 L200.78,327.08 L201.17,326.72 L201.56,324.42 L201.94,325.78 L202.33,323.42 L202.72,323.97 L203.11,318.53 L203.50,319.85 L203.89,318.85 L204.28,316.72 L204.67,317.52 L205.06,318.62 L205.45,319.74 L205.84,320.05 L206.23,321.84 L206.61,324.25 L207.00,325.60 L207.39,325.35 L207.78,326.08 L208.17,326.80 L208.56,328.10 L208.95,326.35 L209.34,326.32 L209.73,327.96 L210.12,326.85 L210.51,327.46 L210.90,328.20 L211.28,328.65 L211.67,327.13 L212.06,329.04 L212.45,326.49 L212.84,328.83 L213.23,326.73 L213.62,327.05 L214.01,328.98 L214.40,327.94 L214.79,327.57 L215.18,327.93 L215.57,328.85 L215.95,328.34 L216.34,328.37 L216.73,329.46 L217.12,327.70 L217.51,327.95 L217.90,327.91 L218.29,329.60 L218.68,329.43 L219.07,329.73 L219.46,328.42 L219.85,328.30 L220.24,329.31 L220.62,328.07 L221.01,329.30 L221.40,329.19 L221.79,327.77 L222.18,328.39 L222.57,328.36 L222.96,330.21 L223.35,331.07 L223.74,328.39 L224.13,328.50 L224.52,326.21 L224.91,328.70 L225.29,328.49 L225.68,327.42 L226.07,329.28 L226.46,326.93 L226.85,328.29 L227.24,328.64 L227.63,327.26 L228.02,329.36 L228.41,329.56 L228.80,327.12 L229.19,327.10 L229.58,329.11 L229.96,328.48 L230.35,327.30 L230.74,328.22 L231.13,328.41 L231.52,328.37 L231.91,329.34 L232.30,328.90 L232.69,330.29 L233.08,329.89 L233.47,329.19 L233.86,329.59 L234.25,329.84 L234.63,329.22 L235.02,327.29 L235.41,329.37 L235.80,328.58 L236.19,330.13 L236.58,328.60 L236.97,329.03 L237.36,328.83 L237.75,330.18 L238.14,328.67 L238.53,328.21 L238.91,328.79 L239.30,328.03 L239.69,328.62 L240.08,328.44 L240.47,328.70 L240.86,330.34 L241.25,327.99 L241.64,328.40 L242.03,328.13 L242.42,328.95 L242.81,327.02 L243.20,327.39 L243.58,327.81 L243.97,327.95 L244.36,326.55 L244.75,324.73 L245.14,322.34 L245.53,321.05 L245.92,319.05 L246.31,316.39 L246.70,317.79 L247.09,320.98 L247.48,322.26 L247.87,324.92 L248.25,326.32 L248.64,327.70 L249.03,327.81 L249.42,326.86 L249.81,329.32 L250.20,329.96 L250.59,328.05 L250.98,328.75 L251.37,328.64 L251.76,329.18 L252.15,326.93 L252.54,330.04 L252.92,327.96 L253.31,329.70 L253.70,328.52 L254.09,328.05 L254.48,328.30 L254.87,329.34 L255.26,327.58 L255.65,328.06 L256.04,327.95 L256.43,326.70 L256.82,329.71 L257.21,328.98 L257.59,328.36 L257.98,329.53 L258.37,327.39 L258.76,328.25 L259.15,330.02 L259.54,329.23 L259.93,325.99 L260.32,324.83 L260.71,327.06 L261.10,329.09 L261.49,327.46 L261.88,327.59 L262.26,328.24 L262.65,326.48 L263.04,327.13 L263.43,326.92 L263.82,325.21 L264.21,322.84 L264.60,318.27 L264.99,314.33 L265.38,306.82 L265.77,300.91 L266.16,295.43 L266.42,290.42 L266.55,289.42 L266.93,296.65 L267.32,305.16 L267.71,312.85 L268.10,318.45 L268.49,320.64 L268.88,323.32 L269.27,327.03 L269.66,325.63 L270.05,328.35 L270.44,327.35 L270.83,328.55 L271.22,328.63 L271.60,328.80 L271.99,328.93 L272.38,327.19 L272.77,328.53 L273.16,328.29 L273.55,328.63 L273.94,329.59 L274.33,328.11 L274.72,327.70 L275.11,327.70 L275.50,328.14 L275.89,329.22 L276.27,327.66 L276.66,329.65 L277.05,328.79 L277.44,328.29 L277.83,327.19 L278.22,328.78 L278.61,329.23 L279.00,326.78 L279.39,329.74 L279.78,330.20 L280.17,328.90 L280.56,329.06 L280.94,330.98 L281.33,329.80 L281.72,327.68 L282.11,328.56 L282.50,328.42 L282.89,328.43 L283.28,326.22 L283.67,329.34 L284.06,327.95 L284.45,328.75 L284.84,328.45 L285.23,329.46 L285.61,328.30 L286.00,327.80 L286.39,329.12 L286.78,330.00 L287.17,328.27 L287.56,329.96 L287.95,328.85 L288.34,328.06 L288.73,330.12 L289.12,327.77 L289.51,329.60 L289.89,328.09 L290.28,329.04 L290.67,327.35 L291.06,327.74 L291.45,329.64 L291.84,328.76 L292.23,328.61 L292.62,328.13 L293.01,329.01 L293.40,327.17 L293.79,327.44 L294.18,328.40 L294.56,327.72 L294.95,327.85 L295.34,328.47 L295.73,328.40 L296.12,328.31 L296.51,330.19 L296.90,329.53 L297.29,329.74 L297.68,328.47 L298.07,327.98 L298.46,327.02 L298.85,328.12 L299.23,326.37 L299.62,327.85 L300.01,329.19 L300.40,330.02 L300.79,329.35 L301.18,327.50 L301.57,328.83 L301.96,327.52 L302.35,329.10 L302.74,328.12 L303.13,329.05 L303.52,330.71 L303.90,328.99 L304.29,330.32 L304.68,328.05 L305.07,327.38 L305.46,328.84 L305.85,328.94 L306.24,326.27 L306.63,326.39 L307.02,324.20 L307.41,324.53 L307.80,324.44 L308.19,322.00 L308.57,319.81 L308.96,317.01 L309.35,316.38 L309.74,313.74 L310.13,309.76 L310.52,305.04 L310.91,299.08 L311.30,299.02 L311.49,296.73 L311.69,297.04 L312.08,300.88 L312.47,302.27 L312.86,308.61 L313.24,312.19 L313.63,315.61 L314.02,318.76 L314.41,319.42 L314.80,318.24 L315.19,320.73 L315.58,322.28 L315.97,323.21 L316.36,322.71 L316.75,323.14 L317.14,326.05 L317.53,326.44 L317.91,326.57 L318.30,325.27 L318.69,329.10 L319.08,324.68 L319.47,327.42 L319.86,330.02 L320.25,327.89 L320.64,328.36 L321.03,327.01 L321.42,329.60 L321.81,326.99 L322.20,328.58 L322.58,328.49 L322.97,327.32 L323.36,329.28 L323.75,327.00 L324.14,327.75 L324.53,328.42 L324.92,328.05 L325.31,328.95 L325.70,329.41 L326.09,328.21 L326.48,327.97 L326.87,328.00 L327.25,328.16 L327.64,329.34 L328.03,328.32 L328.42,328.95 L328.81,328.46 L329.20,327.71 L329.59,329.43 L329.98,327.53 L330.37,328.58 L330.76,330.06 L331.15,327.49 L331.54,328.53 L331.92,327.00 L332.31,328.08 L332.70,327.10 L333.09,328.23 L333.48,328.06 L333.87,328.73 L334.26,330.17 L334.65,328.86 L335.04,329.22 L335.43,328.50 L335.82,328.29 L336.20,327.69 L336.59,326.71 L336.98,328.56 L337.37,330.11 L337.76,328.94 L338.15,327.92 L338.54,330.09 L338.93,327.99 L339.32,327.79 L339.71,327.18 L340.10,327.42 L340.49,328.12 L340.87,330.35 L341.26,328.13 L341.65,327.29 L342.04,327.70 L342.43,328.07 L342.82,326.56 L343.21,328.38 L343.60,328.94 L343.99,328.54 L344.38,328.81 L344.77,326.90 L345.16,326.47 L345.54,329.44 L345.93,329.22 L346.32,326.57 L346.71,328.30 L347.10,328.09 L347.49,328.59 L347.88,328.23 L348.27,327.49 L348.66,328.15 L349.05,328.08 L349.44,327.83 L349.83,325.98 L350.21,324.78 L350.60,326.91 L350.99,325.98 L351.38,327.76 L351.77,328.09 L352.16,327.48 L352.55,326.67 L352.94,326.89 L353.33,327.74 L353.72,325.56 L354.11,326.90 L354.50,326.33 L354.88,325.51 L355.27,326.30 L355.66,323.71 L356.05,324.97 L356.44,322.74 L356.83,322.65 L357.22,322.26 L357.61,323.83 L358.00,322.67 L358.39,323.99 L358.78,323.18 L359.17,325.77 L359.55,326.91 L359.94,325.66 L360.33,327.39 L360.72,326.60 L361.11,328.46 L361.50,326.61 L361.89,325.13 L362.28,328.34 L362.67,326.85 L363.06,326.05 L363.45,326.50 L363.84,325.59 L364.22,327.10 L364.61,326.22 L365.00,328.80 L365.39,328.00 L365.78,325.68 L366.17,325.83" stroke="#f01010"/>
<path d="M42.00,292.24 L42.39,292.78 L42.78,294.67 L43.17,293.73 L43.56,291.48 L43.95,293.18 L44.33,292.62 L44.72,293.45 L45.11,291.75 L45.50,293.66 L45.89,293.71 L46.28,295.11 L46.67,293.91 L47.06,294.16 L47.45,292.22 L47.84,296.02 L48.23,291.91 L48.62,294.99 L49.00,293.61 L49.39,293.12 L49.78,293.40 L50.17,293.45 L50.56,294.56 L50.95,294.13 L51.34,295.78 L51.73,292.52 L52.12,294.41 L52.51,293.58 L52.90,295.30 L53.29,292.47 L53.67,294.30 L54.06,294.91 L54.45,293.28 L54.84,295.81 L55.23,295.06 L55.62,295.94 L56.01,295.95 L56.40,294.07 L56.79,294.31 L57.18,294.97 L57.57,295.98 L57.96,296.14 L58.34,294.64 L58.73,294.80 L59.12,294.66 L59.51,294.94 L59.90,295.34 L60.29,295.51 L60.68,297.75 L61.07,295.25 L61.46,295.52 L61.85,296.33 L62.24,294.98 L62.63,295.62 L63.01,296.06 L63.40,296.88 L63.79,294.85 L64.18,297.59 L64.57,295.93 L64.96,296.51 L65.35,297.24 L65.74,297.11 L66.13,297.57 L66.52,296.74 L66.91,296.61 L67.30,297.00 L67.68,295.75 L68.07,298.02 L68.46,296.09 L68.85,295.63 L69.24,298.96 L69.63,296.79 L70.02,295.76 L70.41,298.81 L70.80,296.64 L71.19,298.05 L71.58,296.18 L71.97,296.77 L72.35,295.35 L72.74,295.15 L73.13,296.10 L73.52,297.01 L73.91,297.90 L74.30,299.55 L74.69,296.11 L75.08,298.16 L75.47,296.57 L75.86,297.03 L76.25,295.72 L76.64,295.74 L77.02,296.46 L77.41,296.06 L77.80,297.26 L78.19,296.58 L78.58,298.55 L78.97,297.47 L79.36,297.50 L79.75,298.48 L80.14,297.88 L80.53,297.34 L80.92,297.30 L81.31,297.29 L81.69,298.50 L82.08,298.22 L82.47,297.82 L82.86,298.27 L83.25,296.94 L83.64,298.01 L84.03,296.10 L84.42,298.88 L84.81,297.64 L85.20,297.75 L85.59,298.18 L85.98,297.58 L86.36,297.35 L86.75,298.81 L87.14,297.75 L87.53,296.73 L87.92,298.10 L88.31,295.97 L88.70,299.34 L89.09,297.53 L89.48,297.76 L89.87,299.99 L90.26,299.89 L90.65,297.87 L91.03,298.39 L91.42,298.86 L91.81,299.47 L92.20,297.66 L92.59,297.94 L92.98,299.04 L93.37,298.09 L93.76,298.58 L94.15,298.44 L94.54,296.70 L94.93,296.97 L95.31,295.19 L95.70,297.57 L96.09,299.16 L96.48,296.71 L96.87,299.04 L97.26,298.78 L97.65,297.71 L98.04,297.72 L98.43,297.77 L98.82,296.77 L99.21,297.27 L99.60,297.41 L99.98,297.94 L100.37,297.95 L100.76,296.17 L101.15,297.43 L101.54,295.41 L101.93,295.09 L102.32,293.18 L102.71,286.40 L103.10,272.26 L103.49,248.41 L103.88,216.59 L104.14,205.83 L104.27,209.31 L104.65,239.33 L105.04,266.07 L105.43,285.69 L105.82,292.82 L106.21,293.33 L106.60,297.44 L106.99,300.38 L107.38,299.29 L107.77,299.29 L108.16,299.21 L108.55,301.72 L108.94,301.67 L109.32,301.59 L109.71,301.47 L110.10,302.55 L110.49,301.98 L110.88,299.97 L111.27,302.00 L111.66,301.43 L112.05,301.18 L112.44,302.07 L112.83,301.36 L113.22,298.41 L113.61,302.91 L113.99,302.40 L114.38,301.25 L114.77,301.00 L115.16,301.60 L115.55,300.09 L115.94,301.68 L116.33,301.14 L116.72,301.01 L117.11,300.43 L117.50,300.66 L117.89,302.43 L118.28,302.63 L118.66,301.77 L119.05,301.18 L119.44,300.30 L119.83,301.83 L120.22,302.64 L120.61,299.30 L121.00,301.93 L121.39,298.32 L121.78,299.67 L122.17,299.42 L122.56,295.73 L122.95,292.03 L123.33,288.05 L123.72,280.80 L124.11,270.27 L124.50,267.00 L124.89,269.97 L125.28,281.70 L125.67,288.01 L126.06,293.82 L126.45,297.75 L126.84,299.41 L127.23,301.91 L127.62,302.76 L128.00,301.37 L128.39,300.83 L128.78,299.94 L129.17,300.46 L129.56,301.29 L129.95,301.24 L130.34,301.35 L130.73,301.44 L131.12,301.96 L131.51,300.15 L131.90,300.50 L132.29,302.67 L132.67,302.40 L133.06,301.05 L133.45,302.89 L133.84,300.93 L134.23,301.37 L134.62,299.81 L135.01,302.49 L135.40,301.65 L135.79,302.73 L136.18,302.38 L136.57,301.78 L136.96,301.85 L137.34,302.90 L137.73,301.55 L138.12,301.57 L138.51,301.79 L138.90,302.54 L139.29,302.66 L139.68,303.66 L140.07,301.67 L140.46,303.02 L140.85,301.11 L141.24,302.38 L141.62,301.90 L142.01,303.52 L142.40,302.40 L142.79,301.35 L143.18,302.38 L143.57,302.15 L143.96,301.49 L144.35,301.51 L144.74,300.87 L145.13,304.57 L145.52,301.95 L145.91,302.79 L146.29,300.66 L146.68,300.74 L147.07,301.67 L147.46,301.68 L147.85,302.63 L148.24,300.83 L148.63,302.37 L149.02,303.35 L149.41,300.92 L149.80,302.75 L150.19,300.88 L150.58,302.19 L150.96,302.21 L151.35,303.58 L151.74,301.16 L152.13,302.02 L152.52,302.89 L152.91,300.68 L153.30,301.84 L153.69,300.98 L154.08,301.15 L154.47,302.54 L154.86,302.56 L155.25,304.44 L155.63,303.24 L156.02,303.15 L156.41,301.69 L156.80,301.56 L157.19,302.00 L157.58,299.59 L157.97,303.52 L158.36,301.19 L158.75,300.80 L159.14,301.40 L159.53,302.73 L159.92,303.10 L160.30,301.48 L160.69,302.29 L161.08,301.80 L161.47,300.86 L161.86,302.02 L162.25,301.88 L162.64,300.31 L163.03,302.95 L163.42,300.28 L163.81,302.08 L164.20,300.80 L164.59,301.03 L164.97,301.15 L165.36,302.55 L165.75,300.59 L166.14,301.65 L166.53,303.40 L166.92,301.15 L167.31,301.81 L167.70,302.50 L168.09,301.26 L168.48,302.31 L168.87,301.17 L169.26,302.53 L169.64,301.89 L170.03,300.89 L170.42,303.24 L170.81,301.73 L171.20,301.54 L171.59,300.89 L171.98,301.34 L172.37,301.71 L172.76,301.98 L173.15,302.90 L173.54,300.48 L173.93,301.44 L174.31,302.98 L174.70,301.95 L175.09,302.17 L175.48,303.34 L175.87,302.07 L176.26,302.19 L176.65,301.66 L177.04,303.45 L177.43,302.71 L177.82,300.91 L178.21,302.14 L178.60,300.40 L178.98,302.59 L179.37,302.10 L179.76,301.19 L180.15,300.83 L180.54,299.28 L180.93,301.59 L181.32,300.25 L181.71,299.13 L182.10,298.32 L182.49,293.58 L182.88,288.28 L183.27,280.68 L183.65,271.34 L184.04,270.29 L184.43,272.50 L184.82,281.02 L185.21,289.76 L185.60,291.09 L185.99,297.56 L186.38,299.44 L186.77,299.37 L187.16,301.26 L187.55,299.02 L187.94,301.20 L188.32,302.18 L188.71,299.15 L189.10,299.98 L189.49,301.31 L189.88,301.47 L190.27,300.86 L190.66,301.88 L191.05,301.77 L191.44,300.19 L191.83,301.44 L192.22,300.27 L192.60,299.46 L192.99,299.12 L193.38,302.56 L193.77,301.40 L194.16,303.48 L194.55,300.05 L194.94,301.15 L195.33,301.83 L195.72,301.33 L196.11,301.96 L196.50,301.58 L196.89,300.79 L197.27,299.04 L197.66,300.36 L198.05,302.96 L198.44,301.90 L198.83,302.36 L199.22,300.18 L199.61,300.27 L200.00,299.18 L200.39,299.91 L200.78,298.88 L201.17,298.41 L201.56,298.69 L201.94,294.89 L202.33,295.12 L202.72,291.56 L203.11,292.70 L203.50,290.15 L203.89,290.23 L204.28,291.00 L204.67,293.68 L205.06,293.41 L205.45,294.36 L205.84,294.98 L206.23,297.58 L206.61,297.43 L207.00,298.59 L207.39,299.71 L207.78,300.90 L208.17,299.88 L208.56,301.53 L208.95,302.82 L209.34,299.68 L209.73,302.62 L210.12,303.45 L210.51,300.73 L210.90,301.94 L211.28,299.95 L211.67,301.64 L212.06,300.94 L212.45,301.53 L212.84,300.25 L213.23,300.28 L213.62,300.58 L214.01,300.24 L214.40,300.24 L214.79,300.56 L215.18,299.54 L215.57,300.40 L215.95,300.91 L216.34,298.00 L216.73,300.40 L217.12,299.35 L217.51,298.89 L217.90,298.61 L218.29,299.07 L218.68,299.19 L219.07,300.33 L219.46,298.80 L219.85,301.22 L220.24,299.48 L220.62,301.11 L221.01,301.65 L221.40,299.47 L221.79,301.90 L222.18,303.14 L222.57,300.64 L222.96,301.79 L223.35,301.19 L223.74,301.50 L224.13,301.32 L224.52,301.09 L224.91,302.40 L225.29,302.63 L225.68,301.81 L226.07,303.38 L226.46,303.00 L226.85,302.66 L227.24,301.28 L227.63,303.93 L228.02,303.38 L228.41,299.94 L228.80,301.00 L229.19,301.65 L229.58,303.08 L229.96,303.41 L230.35,301.89 L230.74,302.43 L231.13,302.90 L231.52,300.94 L231.91,302.81 L232.30,301.92 L232.69,302.42 L233.08,302.20 L233.47,301.07 L233.86,301.27 L234.25,302.31 L234.63,302.40 L235.02,302.02 L235.41,303.35 L235.80,301.93 L236.19,301.08 L236.58,301.95 L236.97,302.13 L237.36,302.18 L237.75,303.47 L238.14,302.82 L238.53,303.37 L238.91,302.94 L239.30,302.15 L239.69,303.35 L240.08,302.06 L240.47,302.56 L240.86,301.31 L241.25,302.41 L241.64,301.97 L242.03,302.66 L242.42,304.08 L242.81,304.60 L243.20,303.20 L243.58,302.05 L243.97,302.72 L244.36,301.82 L244.75,300.50 L245.14,300.34 L245.53,299.23 L245.92,297.77 L246.31,298.71 L246.70,296.43 L247.09,297.15 L247.48,299.48 L247.87,299.14 L248.25,299.54 L248.64,300.47 L249.03,302.24 L249.42,302.40 L249.81,302.47 L250.20,301.80 L250.59,301.40 L250.98,303.26 L251.37,300.93 L251.76,302.18 L252.15,301.08 L252.54,302.01 L252.92,302.27 L253.31,303.66 L253.70,299.57 L254.09,303.81 L254.48,301.56 L254.87,302.74 L255.26,303.25 L255.65,301.67 L256.04,302.35 L256.43,302.92 L256.82,302.30 L257.21,301.67 L257.59,302.59 L257.98,302.49 L258.37,300.86 L258.76,303.70 L259.15,302.54 L259.54,299.85 L259.93,301.40 L260.32,303.89 L260.71,303.69 L261.10,302.29 L261.49,300.22 L261.88,301.51 L262.26,302.57 L262.65,301.50 L263.04,300.07 L263.43,298.43 L263.82,297.90 L264.21,293.58 L264.60,289.38 L264.99,283.31 L265.38,277.02 L265.77,268.50 L266.09,266.03 L266.16,264.10 L266.55,271.55 L266.93,278.86 L267.32,285.07 L267.71,288.57 L268.10,294.53 L268.49,298.03 L268.88,301.83 L269.27,301.36 L269.66,302.14 L270.05,302.51 L270.44,303.23 L270.83,300.90 L271.22,301.29 L271.60,301.04 L271.99,302.01 L272.38,301.99 L272.77,302.49 L273.16,301.40 L273.55,302.54 L273.94,301.62 L274.33,304.62 L274.72,301.99 L275.11,305.08 L275.50,304.18 L275.89,301.36 L276.27,303.52 L276.66,303.18 L277.05,301.04 L277.44,303.19 L277.83,302.50 L278.22,302.94 L278.61,301.74 L279.00,302.54 L279.39,303.01 L279.78,302.42 L280.17,301.99 L280.56,302.44 L280.94,301.62 L281.33,302.94 L281.72,300.04 L282.11,304.11 L282.50,302.66 L282.89,303.07 L283.28,303.45 L283.67,301.35 L284.06,304.87 L284.45,301.46 L284.84,303.05 L285.23,302.91 L285.61,303.89 L286.00,302.56 L286.39,301.16 L286.78,302.89 L287.17,300.09 L287.56,302.36 L287.95,302.09 L288.34,304.11 L288.73,302.26 L289.12,302.09 L289.51,301.77 L289.89,301.67 L290.28,301.97 L290.67,303.12 L291.06,301.19 L291.45,302.29 L291.84,301.03 L292.23,302.32 L292.62,302.65 L293.01,301.24 L293.40,301.89 L293.79,302.57 L294.18,303.22 L294.56,303.40 L294.95,302.32 L295.34,301.42 L295.73,300.79 L296.12,303.19 L296.51,303.79 L296.90,302.75 L297.29,303.94 L297.68,301.91 L298.07,301.96 L298.46,303.91 L298.85,301.31 L299.23,302.91 L299.62,302.68 L300.01,302.42 L300.40,303.99 L300.79,301.34 L301.18,301.77 L301.57,300.07 L301.96,301.09 L302.35,301.59 L302.74,301.67 L303.13,301.81 L303.52,302.26 L303.90,301.22 L304.29,299.83 L304.68,301.87 L305.07,302.02 L305.46,300.28 L305.85,300.44 L306.24,302.67 L306.63,301.37 L307.02,300.47 L307.41,298.38 L307.80,295.15 L308.19,290.42 L308.57,285.90 L308.96,278.05 L309.35,269.95 L309.74,264.63 L309.87,263.97 L310.13,266.28 L310.52,270.41 L310.91,280.57 L311.30,282.49 L311.69,286.88 L312.08,290.54 L312.47,290.01 L312.86,291.42 L313.24,293.30 L313.63,291.86 L314.02,295.83 L314.41,296.68 L314.80,298.50 L315.19,300.14 L315.58,300.96 L315.97,302.33 L316.36,302.63 L316.75,302.47 L317.14,301.57 L317.53,302.77 L317.91,300.81 L318.30,301.77 L318.69,303.37 L319.08,302.75 L319.47,300.58 L319.86,301.42 L320.25,302.95 L320.64,302.68 L321.03,303.16 L321.42,300.31 L321.81,300.82 L322.20,301.86 L322.58,301.14 L322.97,302.10 L323.36,302.15 L323.75,302.49 L324.14,302.02 L324.53,302.72 L324.92,302.95 L325.31,302.32 L325.70,300.94 L326.09,303.47 L326.48,302.39 L326.87,302.60 L327.25,302.35 L327.64,300.55 L328.03,302.76 L328.42,301.52 L328.81,300.95 L329.20,303.47 L329.59,301.87 L329.98,302.46 L330.37,303.07 L330.76,303.80 L331.15,300.34 L331.54,301.42 L331.92,302.84 L332.31,301.49 L332.70,298.87 L333.09,302.30 L333.48,302.38 L333.87,302.95 L334.26,302.38 L334.65,301.70 L335.04,302.36 L335.43,302.11 L335.82,301.64 L336.20,302.40 L336.59,302.50 L336.98,301.12 L337.37,303.17 L337.76,302.97 L338.15,302.92 L338.54,299.36 L338.93,302.25 L339.32,302.00 L339.71,301.11 L340.10,302.70 L340.49,300.60 L340.87,303.35 L341.26,302.50 L341.65,301.60 L342.04,303.54 L342.43,302.56 L342.82,302.43 L343.21,300.78 L343.60,302.62 L343.99,303.50 L344.38,303.19 L344.77,300.77 L345.16,303.47 L345.54,303.67 L345.93,302.90 L346.32,301.66 L346.71,300.52 L347.10,301.11 L347.49,301.43 L347.88,302.28 L348.27,302.55 L348.66,301.23 L349.05,300.32 L349.44,301.53 L349.83,300.59 L350.21,303.24 L350.60,300.62 L350.99,302.30 L351.38,302.59 L351.77,300.70 L352.16,302.60 L352.55,301.32 L352.94,300.51 L353.33,300.17 L353.72,301.01 L354.11,301.71 L354.50,298.41 L354.88,300.59 L355.27,299.44 L355.66,298.42 L356.05,298.66 L356.44,298.37 L356.83,298.04 L357.22,298.81 L357.61,297.18 L358.00,300.36 L358.39,299.65 L358.78,298.56 L359.17,297.63 L359.55,299.93 L359.94,299.89 L360.33,301.35 L360.72,301.59 L361.11,303.02 L361.50,301.14 L361.89,302.22 L362.28,301.11 L362.67,301.25 L363.06,303.24 L363.45,301.61 L363.84,301.68 L364.22,301.46 L364.61,302.17 L365.00,302.46 L365.39,301.75 L365.78,300.73 L366.17,302.23" stroke="#10ee10"/>
</g>
<path d="M42.0,43.0 V369.4 M366.3,43.0 V369.4" stroke="#000" stroke-width="2" fill="none"/>
<path d="M41.0,44.0 H367.3 M41.0,368.5 H367.3" stroke="#000" stroke-width="1.8" fill="none"/>
<path d="M74.43,368.5 V364.00 M74.43,44.0 V48.00 M106.86,368.5 V364.00 M106.86,44.0 V48.00 M139.29,368.5 V364.00 M139.29,44.0 V48.00 M171.72,368.5 V364.00 M171.72,44.0 V48.00 M204.15,368.5 V364.00 M204.15,44.0 V48.00 M236.58,368.5 V364.00 M236.58,44.0 V48.00 M269.01,368.5 V364.00 M269.01,44.0 V48.00 M301.44,368.5 V364.00 M301.44,44.0 V48.00 M333.87,368.5 V364.00 M333.87,44.0 V48.00 M42.0,98.08 H48.5 M366.3,98.08 H359.8 M42.0,152.17 H48.5 M366.3,152.17 H359.8 M42.0,206.25 H48.5 M366.3,206.25 H359.8 M42.0,260.33 H48.5 M366.3,260.33 H359.8 M42.0,314.42 H48.5 M366.3,314.42 H359.8" stroke="#000" stroke-width="2" fill="none"/>
<text x="42.00" y="396.3" font-family='"Liberation Serif", serif' font-size="26" text-anchor="middle">20</text>
<text x="106.86" y="396.3" font-family='"Liberation Serif", serif' font-size="26" text-anchor="middle">30</text>
<text x="171.72" y="396.3" font-family='"Liberation Serif", serif' font-size="26" text-anchor="middle">40</text>
<text x="236.58" y="396.3" font-family='"Liberation Serif", serif' font-size="26" text-anchor="middle">50</text>
<text x="301.44" y="396.3" font-family='"Liberation Serif", serif' font-size="26" text-anchor="middle">60</text>
<text x="366.30" y="396.3" font-family='"Liberation Serif", serif' font-size="26" text-anchor="middle">70</text>
<text x="144.8" y="427" font-family='"Liberation Serif", serif' font-size="25.7">2</text>
<text transform="translate(159.6,427) scale(1.2,1)" font-family='"Liberation Serif", serif' font-size="25.7" font-style="italic">θ</text>
<text x="177.4" y="427" font-family='"Liberation Serif", serif' font-size="25.7">(degree)</text>
<text transform="translate(18.6,205.75) rotate(-90)" font-family='"Liberation Serif", serif' font-size="25.7" text-anchor="middle">Intensity (arb. units)</text>
<text transform="translate(4.6,23.6) scale(0.92,1)" font-family='"Liberation Sans", sans-serif' font-size="31">a</text>
<text transform="translate(112.5,100.9) rotate(-90)" font-family='"Liberation Serif", serif' font-size="25.5">001</text>
<text transform="translate(134.2,227.9) rotate(-90)" font-family='"Liberation Serif", serif' font-size="25.5">002</text>
<text transform="translate(193,240.6) rotate(-90)" font-family='"Liberation Serif", serif' font-size="25.5">003</text>
<text transform="translate(316.3,251.4) rotate(-90)" font-family='"Liberation Serif", serif' font-size="25.5">004</text>
<text x="260.0" y="78" font-family='"Liberation Serif", serif' font-size="26">Mg<tspan font-style="italic" font-size="17.3" dy="5">x</tspan><tspan dy="-5">TiSe</tspan><tspan font-size="17.3" dy="5">2</tspan></text>
<text x="372.3" y="277.7" font-family='"Liberation Serif", serif' font-size="26"><tspan font-style="italic">x</tspan> = 0.5</text>
<text x="372.3" y="306.6" font-family='"Liberation Serif", serif' font-size="26"><tspan font-style="italic">x</tspan> = 0.4</text>
<text x="372.3" y="335.5" font-family='"Liberation Serif", serif' font-size="26"><tspan font-style="italic">x</tspan> = 0.2</text>
<text x="372.3" y="369.5" font-family='"Liberation Serif", serif' font-size="26"><tspan font-style="italic">x</tspan> = 0</text>
<path d="M530.0,41.7 V366.0 M669.2,41.7 V366.0" stroke="#111" stroke-width="2" fill="none"/>
<path d="M529.0,41.7 H670.2 M529.0,366.0 H670.2" stroke="#222" stroke-width="1.7" fill="none"/>
<path d="M576.40,366.0 V359.0 M576.40,41.7 V48.2 M622.80,366.0 V359.0 M622.80,41.7 V48.2" stroke="#222" stroke-width="1.4" fill="none"/>
<path d="M530.0,319.67 H537.0 M669.2,319.67 H662.2 M530.0,227.01 H537.0 M669.2,227.01 H662.2 M530.0,134.36 H537.0 M669.2,134.36 H662.2 M530.0,41.70 H537.0 M669.2,41.70 H662.2" stroke="#111" stroke-width="1.6" fill="none"/>
<text x="530.00" y="393" font-family='"Liberation Serif", serif' font-size="26" text-anchor="middle">0</text>
<text x="576.40" y="393" font-family='"Liberation Serif", serif' font-size="26" text-anchor="middle">0.2</text>
<text x="622.80" y="393" font-family='"Liberation Serif", serif' font-size="26" text-anchor="middle">0.4</text>
<text x="669.20" y="393" font-family='"Liberation Serif", serif' font-size="26" text-anchor="middle">0.6</text>
<text x="525.5" y="328.27" font-family='"Liberation Serif", serif' font-size="26" text-anchor="end">6.00</text>
<text x="525.5" y="235.61" font-family='"Liberation Serif", serif' font-size="26" text-anchor="end">6.04</text>
<text x="525.5" y="142.96" font-family='"Liberation Serif", serif' font-size="26" text-anchor="end">6.08</text>
<text x="525.5" y="50.30" font-family='"Liberation Serif", serif' font-size="26" text-anchor="end">6.12</text>
<text x="600.5" y="415.6" font-family='"Liberation Serif", serif' font-size="25.7" text-anchor="middle">Mg content (<tspan font-style="italic">x</tspan>)</text>
<text transform="translate(469.5,203) rotate(-90)" font-family='"Liberation Serif", serif' font-size="25.7" text-anchor="middle"><tspan font-style="italic">c</tspan> axis (Å)</text>
<text x="439.5" y="23" font-family='"Liberation Sans", sans-serif' font-size="31">b</text>
<text x="537.4" y="76" font-family='"Liberation Serif", serif' font-size="26">Mg<tspan font-style="italic" font-size="17.3" dy="5">x</tspan><tspan dy="-5">TiSe</tspan><tspan font-size="17.3" dy="5">2</tspan></text>
<line x1="530.2" y1="288.7" x2="640" y2="156.4" stroke="#d81c24" stroke-width="2" stroke-dasharray="5.8,4.3" stroke-dashoffset="0.93"/>
<rect x="524.7" y="290.59999999999997" width="11" height="10.6" fill="#f00"/>
<path d="M576.4,212.8 V227.2 M573.6,212.8 H579.1999999999999 M573.6,227.2 H579.1999999999999" stroke="#e00" stroke-width="1.2"/>
<rect x="570.9" y="214.7" width="11" height="10.6" fill="#f00"/>
<rect x="617.0" y="177.89999999999998" width="11" height="10.6" fill="#f00"/>
<path d="M646.0,145.4 V159.79999999999998 M643.2,145.4 H648.8 M643.2,159.79999999999998 H648.8" stroke="#e00" stroke-width="1.2"/>
<rect x="640.5" y="147.29999999999998" width="11" height="10.6" fill="#f00"/>
<g clip-path="url(#cc)" fill="none" stroke-width="1.6" stroke-linejoin="round">
<path d="M109.50,675.32 L112.09,676.29 L114.68,676.23 L117.28,675.06 L119.87,675.24 L122.46,675.11 L125.05,675.90 L127.64,675.48 L130.24,676.06 L132.83,674.26 L135.42,676.66 L138.01,675.51 L140.60,676.06 L143.20,675.49 L145.79,675.33 L148.38,675.92 L150.97,676.18 L153.56,675.46 L156.16,675.49 L158.75,676.06 L161.34,674.95 L163.93,674.47 L166.52,675.76 L169.12,674.97 L171.71,674.05 L174.30,674.76 L176.89,674.94 L179.48,674.37 L182.08,674.11 L184.67,675.10 L187.26,675.64 L189.85,674.80 L192.44,674.40 L195.04,675.14 L197.63,675.34 L200.22,674.61 L202.81,675.18 L205.40,675.56 L208.00,675.08 L210.59,674.84 L213.18,675.60 L215.77,675.44 L218.36,675.88 L220.96,674.08 L223.55,674.27 L226.14,673.87 L228.73,672.97 L231.32,673.78 L233.92,673.00 L236.51,671.40 L239.10,672.22 L241.69,671.66 L244.28,671.55 L246.88,671.44 L249.47,671.89 L252.06,670.40 L254.65,671.84 L257.24,671.95 L259.84,670.46 L262.43,672.03 L265.02,671.75 L267.61,672.60 L270.20,671.89 L272.80,672.08 L275.39,672.07 L277.98,670.90 L280.57,671.39 L283.16,670.42 L285.76,670.25 L288.35,669.07 L290.94,669.52 L293.53,668.52 L296.12,667.10 L298.72,665.65 L301.31,662.62 L303.90,659.42 L306.49,654.85 L309.08,652.18 L311.68,647.17 L314.27,639.45 L316.86,627.59 L319.45,610.27 L322.04,580.97 L324.64,554.25 L327.23,540.97 L329.82,554.24 L332.41,583.42 L335.00,599.61 L337.60,602.08 L340.19,600.83 L342.78,605.99 L345.37,626.81 L347.96,641.58 L350.56,650.88 L353.15,657.40 L355.74,661.75 L358.33,664.71 L360.92,667.33 L363.52,668.98 L366.11,670.27 L368.70,670.72 L371.29,671.56 L373.88,671.43 L376.48,671.02 L379.07,670.77 L381.66,669.87 L384.25,670.22 L386.84,671.12 L389.44,669.88 L392.03,668.76 L394.62,670.53 L397.21,670.10 L399.80,671.48 L402.40,670.69 L404.99,670.93 L407.58,670.81 L410.17,673.00 L412.76,674.15 L415.36,672.25 L417.95,672.67 L420.54,673.79 L423.13,673.18 L425.72,673.86 L428.32,674.13 L430.91,674.81 L433.50,675.72" stroke="#1a14c8"/>
<path d="M109.50,740.65 L112.09,741.04 L114.68,740.53 L117.28,740.20 L119.87,740.46 L122.46,738.28 L125.05,738.32 L127.64,737.52 L130.24,737.96 L132.83,738.35 L135.42,737.36 L138.01,737.39 L140.60,735.49 L143.20,736.49 L145.79,735.44 L148.38,736.76 L150.97,735.72 L153.56,735.23 L156.16,733.96 L158.75,733.44 L161.34,732.32 L163.93,730.50 L166.52,729.08 L169.12,727.96 L171.71,726.44 L174.30,725.36 L176.89,724.60 L179.48,723.47 L182.08,723.54 L184.67,721.31 L187.26,721.91 L189.85,720.16 L192.44,719.44 L195.04,717.96 L197.63,715.02 L200.22,709.81 L202.81,705.49 L205.40,699.69 L208.00,688.09 L210.59,674.08 L213.18,661.66 L215.77,639.17 L218.36,616.60 L220.96,593.84 L223.55,582.93 L226.14,589.64 L228.73,613.01 L231.32,627.33 L233.92,637.58 L236.51,646.48 L239.10,661.52 L241.69,681.03 L244.28,696.39 L246.88,705.67 L249.47,713.84 L252.06,721.03 L254.65,725.01 L257.24,726.82 L259.84,728.35 L262.43,731.20 L265.02,732.61 L267.61,734.14 L270.20,735.59 L272.80,735.44 L275.39,735.13 L277.98,735.58 L280.57,736.46 L283.16,736.53 L285.76,735.12 L288.35,734.89 L290.94,736.07 L293.53,736.54 L296.12,737.18 L298.72,738.21 L301.31,739.03 L303.90,738.56 L306.49,738.44 L309.08,736.57 L311.68,735.41 L314.27,734.99 L316.86,734.17 L319.45,733.45 L322.04,732.62 L324.64,732.08 L327.23,731.71 L329.82,730.10 L332.41,731.68 L335.00,733.74 L337.60,735.32 L340.19,735.30 L342.78,737.73 L345.37,737.63 L347.96,738.56 L350.56,739.62 L353.15,740.59 L355.74,739.78 L358.33,741.75 L360.92,741.43 L363.52,741.07 L366.11,741.59 L368.70,740.46 L371.29,741.65 L373.88,742.34 L376.48,741.85 L379.07,742.21 L381.66,742.44 L384.25,742.67 L386.84,743.44 L389.44,742.83 L392.03,742.78 L394.62,743.44 L397.21,744.61 L399.80,743.08 L402.40,743.78 L404.99,742.46 L407.58,744.58 L410.17,744.22 L412.76,744.79 L415.36,743.95 L417.95,743.38 L420.54,744.81 L423.13,744.82 L425.72,743.81 L428.32,743.50 L430.91,744.91 L433.50,744.58" stroke="#e8801c"/>
<path d="M109.50,809.68 L112.09,803.55 L114.68,808.56 L117.28,807.43 L119.87,808.97 L122.46,807.79 L125.05,809.58 L127.64,807.32 L130.24,806.63 L132.83,807.98 L135.42,807.78 L138.01,806.79 L140.60,806.92 L143.20,808.11 L145.79,808.09 L148.38,806.59 L150.97,806.74 L153.56,804.94 L156.16,809.30 L158.75,806.92 L161.34,808.87 L163.93,807.72 L166.52,809.63 L169.12,809.12 L171.71,807.60 L174.30,809.05 L176.89,806.01 L179.48,808.76 L182.08,805.33 L184.67,807.33 L187.26,807.85 L189.85,806.47 L192.44,805.35 L195.04,804.36 L197.63,804.39 L200.22,805.48 L202.81,804.85 L205.40,803.12 L208.00,801.58 L210.59,803.36 L213.18,800.49 L215.77,801.11 L218.36,800.46 L220.96,801.78 L223.55,800.85 L226.14,800.82 L228.73,800.34 L231.32,798.99 L233.92,800.23 L236.51,801.05 L239.10,799.08 L241.69,799.56 L244.28,798.30 L246.88,798.85 L249.47,797.46 L252.06,796.60 L254.65,795.12 L257.24,796.07 L259.84,793.82 L262.43,795.02 L265.02,793.75 L267.61,791.40 L270.20,787.64 L272.80,785.14 L275.39,783.66 L277.98,780.98 L280.57,777.16 L283.16,770.90 L285.76,765.51 L288.35,756.71 L290.94,747.03 L293.53,735.79 L296.12,719.51 L298.72,704.60 L301.31,693.49 L303.90,688.69 L306.49,691.26 L309.08,704.71 L311.68,715.42 L314.27,718.37 L316.86,724.61 L319.45,731.79 L322.04,742.17 L324.64,754.14 L327.23,766.02 L329.82,775.45 L332.41,782.35 L335.00,788.72 L337.60,791.61 L340.19,794.14 L342.78,797.42 L345.37,797.29 L347.96,799.78 L350.56,799.84 L353.15,801.52 L355.74,803.34 L358.33,800.79 L360.92,802.34 L363.52,802.97 L366.11,803.86 L368.70,805.70 L371.29,805.04 L373.88,802.82 L376.48,804.57 L379.07,804.14 L381.66,804.39 L384.25,808.14 L386.84,804.74 L389.44,806.53 L392.03,805.63 L394.62,807.73 L397.21,807.32 L399.80,807.22 L402.40,807.13 L404.99,808.75 L407.58,806.38 L410.17,806.78 L412.76,806.49 L415.36,809.63 L417.95,807.91 L420.54,807.33 L423.13,808.40 L425.72,812.15 L428.32,809.57 L430.91,811.10 L433.50,811.13" stroke="#dc1864"/>
</g>
<rect x="109.5" y="494.5" width="324.0" height="324.70" fill="none" stroke="#333" stroke-width="1.4"/>
<path d="M190.50,819.2 V812.7 M271.50,819.2 V812.7 M352.50,819.2 V812.7" stroke="#333" stroke-width="1.4" fill="none"/>
<text x="109.50" y="846.4" font-family='"Liberation Serif", serif' font-size="25.5" text-anchor="middle">59</text>
<text x="190.50" y="846.4" font-family='"Liberation Serif", serif' font-size="25.5" text-anchor="middle">60</text>
<text x="271.50" y="846.4" font-family='"Liberation Serif", serif' font-size="25.5" text-anchor="middle">61</text>
<text x="352.50" y="846.4" font-family='"Liberation Serif", serif' font-size="25.5" text-anchor="middle">62</text>
<text x="433.50" y="846.4" font-family='"Liberation Serif", serif' font-size="25.5" text-anchor="middle">63</text>
<text x="212.3" y="887.4" font-family='"Liberation Serif", serif' font-size="25.7">2</text>
<text transform="translate(227.1,887.4) scale(1.2,1)" font-family='"Liberation Serif", serif' font-size="25.7" font-style="italic">θ</text>
<text x="244.9" y="887.4" font-family='"Liberation Serif", serif' font-size="25.7">(degree)</text>
<text transform="translate(85.7,656.3) rotate(-90)" font-family='"Liberation Serif", serif' font-size="25.7" text-anchor="middle">Intensity (arb. units)</text>
<text x="7" y="509.5" font-family='"Liberation Sans", sans-serif' font-size="31">c</text>
<text x="118.6" y="525.2" font-family='"Liberation Serif", serif' font-size="26">Mg<tspan font-style="italic" font-size="17.3" dy="5">x</tspan><tspan dy="-5">TiSe</tspan><tspan font-size="17.3" dy="5">2</tspan></text>
<text x="118.6" y="553.8" font-family='"Liberation Serif", serif' font-size="25.3"><tspan font-style="italic">hkl</tspan> = 004</text>
<text x="446.3" y="682.0" font-family='"Liberation Serif", serif' font-size="25.7">Initial (<tspan font-style="italic">x</tspan> = 0)</text>
<text x="446.3" y="749.6" font-family='"Liberation Serif", serif' font-size="25.7">Discharged (<tspan font-style="italic">x</tspan> = 0.48)</text>
<text x="450.8" y="818.8" font-family='"Liberation Serif", serif' font-size="25.7">Charged (<tspan font-style="italic">x</tspan> = 0.05)</text>
</svg>
</body></html>
